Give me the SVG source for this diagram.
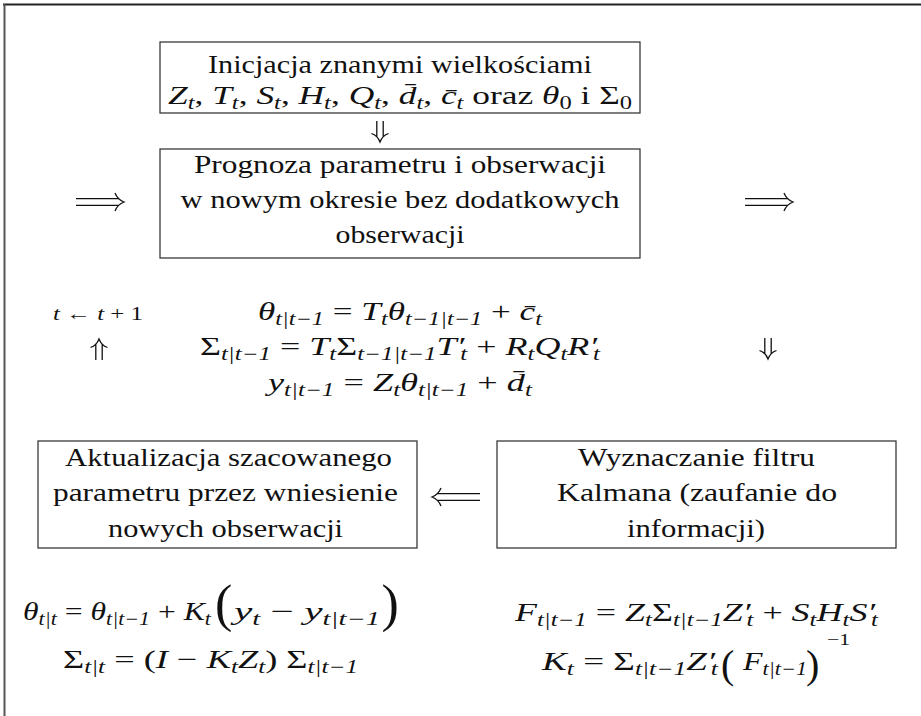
<svg xmlns="http://www.w3.org/2000/svg" xmlns:xlink="http://www.w3.org/1999/xlink" width="921" height="716" viewBox="0 0 921 716">
<style>
.b{font-family:"Liberation Serif",serif;font-size:26px;fill:#111}
.m{font-family:"Liberation Serif",serif;font-size:26px;font-style:italic;fill:#111}
.u{font-style:normal}
.sb{font-size:18px}
.p{font-family:"Liberation Serif",serif;fill:#111}
.box{fill:none;stroke:#3a3a3a;stroke-width:1.3}
.arr{fill:none;stroke:#111;stroke-width:1.3}
</style>
<defs>
<path id="dlong" class="arr" d="M0,-3.3H43M0,3.3H43M39,-9C41,-4 44,-1.5 48,0C44,1.5 41,4 39,9"/>
<path id="dshort" class="arr" d="M0,-3.2H16M0,3.2H16M12.5,-8.5C14,-4 17,-1.5 21,0C17,1.5 14,4 12.5,8.5"/>
</defs>
<g id="frame">
<line x1="3" y1="4.5" x2="921" y2="4.5" stroke="#222" stroke-width="2"/>
<line x1="4.5" y1="4" x2="4.5" y2="716" stroke="#555" stroke-width="2"/>
</g>
<g id="init">
<rect class="box" x="160" y="42" width="480" height="71"/>
<text class="b" x="208" y="73" textLength="384" lengthAdjust="spacingAndGlyphs">Inicjacja znanymi wielkościami</text>
<text class="m" x="168" y="104" textLength="464" lengthAdjust="spacingAndGlyphs">Z<tspan class="sb" dy="5">t</tspan><tspan class="u" dy="-5">, </tspan>T<tspan class="sb" dy="5">t</tspan><tspan class="u" dy="-5">, </tspan>S<tspan class="sb" dy="5">t</tspan><tspan class="u" dy="-5">, </tspan>H<tspan class="sb" dy="5">t</tspan><tspan class="u" dy="-5">, </tspan>Q<tspan class="sb" dy="5">t</tspan><tspan class="u" dy="-5">, </tspan>d̄<tspan class="sb" dy="5">t</tspan><tspan class="u" dy="-5">, </tspan>c̄<tspan class="sb" dy="5">t</tspan><tspan class="u" dy="-5"> oraz </tspan>θ<tspan class="sb u" dy="5">0</tspan><tspan class="u" dy="-5"> i Σ</tspan><tspan class="sb u" dy="5">0</tspan></text>
</g>
<g id="prognoza">
<rect class="box" x="160" y="149" width="480" height="109"/>
<text class="b" x="194" y="173" textLength="412" lengthAdjust="spacingAndGlyphs">Prognoza parametru i obserwacji</text>
<text class="b" x="180.5" y="208" textLength="439" lengthAdjust="spacingAndGlyphs">w nowym okresie bez dodatkowych</text>
<text class="b" x="335.5" y="243" textLength="129" lengthAdjust="spacingAndGlyphs">obserwacji</text>
</g>
<g id="step">
<text class="m" style="font-size:19px" x="53" y="320" textLength="90" lengthAdjust="spacingAndGlyphs">t<tspan class="u"> ← </tspan>t<tspan class="u"> + 1</tspan></text>
</g>
<g id="predict-eqs">
<text class="m" x="258" y="320" textLength="284" lengthAdjust="spacingAndGlyphs">θ<tspan class="sb" dy="5">t|t−1</tspan><tspan class="u" dy="-5"> = </tspan>T<tspan class="sb" dy="5">t</tspan><tspan dy="-5">θ</tspan><tspan class="sb" dy="5">t−1|t−1</tspan><tspan class="u" dy="-5"> + </tspan>c̄<tspan class="sb" dy="5">t</tspan></text>
<text class="m" x="200" y="355" textLength="400" lengthAdjust="spacingAndGlyphs"><tspan class="u">Σ</tspan><tspan class="sb" dy="5">t|t−1</tspan><tspan class="u" dy="-5"> = </tspan>T<tspan class="sb" dy="5">t</tspan><tspan class="u" dy="-5">Σ</tspan><tspan class="sb" dy="5">t−1|t−1</tspan><tspan dy="-5">T′</tspan><tspan class="sb" dy="5" dx="-3">t</tspan><tspan class="u" dy="-5"> + </tspan>R<tspan class="sb" dy="5">t</tspan><tspan dy="-5">Q</tspan><tspan class="sb" dy="5">t</tspan><tspan dy="-5">R′</tspan><tspan class="sb" dy="5" dx="-3">t</tspan></text>
<text class="m" x="268" y="391" textLength="264" lengthAdjust="spacingAndGlyphs">y<tspan class="sb" dy="5">t|t−1</tspan><tspan class="u" dy="-5"> = </tspan>Z<tspan class="sb" dy="5">t</tspan><tspan dy="-5">θ</tspan><tspan class="sb" dy="5">t|t−1</tspan><tspan class="u" dy="-5"> + </tspan>d̄<tspan class="sb" dy="5">t</tspan></text>
</g>
<g id="aktualizacja">
<rect class="box" x="38" y="441" width="379" height="107"/>
<text class="b" x="65" y="466" textLength="327" lengthAdjust="spacingAndGlyphs">Aktualizacja szacowanego</text>
<text class="b" x="53" y="501" textLength="345" lengthAdjust="spacingAndGlyphs">parametru przez wniesienie</text>
<text class="b" x="108" y="537" textLength="235" lengthAdjust="spacingAndGlyphs">nowych obserwacji</text>
</g>
<g id="kalman">
<rect class="box" x="497" y="441" width="399" height="107"/>
<text class="b" x="578" y="466" textLength="237" lengthAdjust="spacingAndGlyphs">Wyznaczanie filtru</text>
<text class="b" x="557" y="501" textLength="280" lengthAdjust="spacingAndGlyphs">Kalmana (zaufanie do</text>
<text class="b" x="627" y="537" textLength="138" lengthAdjust="spacingAndGlyphs">informacji)</text>
</g>
<g id="update-eqs">
<text class="m" x="23" y="620" textLength="188" lengthAdjust="spacingAndGlyphs">θ<tspan class="sb" dy="5">t|t</tspan><tspan class="u" dy="-5"> = </tspan>θ<tspan class="sb" dy="5">t|t−1</tspan><tspan class="u" dy="-5"> + </tspan>K<tspan class="sb" dy="5">t</tspan></text>
<text class="p" x="215" y="621" style="font-size:52px">(</text>
<text class="m" x="234" y="620" textLength="146" lengthAdjust="spacingAndGlyphs">y<tspan class="sb" dy="5">t</tspan><tspan class="u" dy="-5"> − </tspan>y<tspan class="sb" dy="5">t|t−1</tspan></text>
<text class="p" x="381.5" y="621" style="font-size:52px">)</text>
<text class="m" x="63" y="668" textLength="295" lengthAdjust="spacingAndGlyphs"><tspan class="u">Σ</tspan><tspan class="sb" dy="5">t|t</tspan><tspan class="u" dy="-5"> = (</tspan>I<tspan class="u"> − </tspan>K<tspan class="sb" dy="5">t</tspan><tspan dy="-5">Z</tspan><tspan class="sb" dy="5">t</tspan><tspan class="u" dy="-5">) Σ</tspan><tspan class="sb" dy="5">t|t−1</tspan></text>
</g>
<g id="gain-eqs">
<text class="m" x="515" y="621" textLength="363" lengthAdjust="spacingAndGlyphs">F<tspan class="sb" dy="5">t|t−1</tspan><tspan class="u" dy="-5"> = </tspan>Z<tspan class="sb" dy="5">t</tspan><tspan class="u" dy="-5">Σ</tspan><tspan class="sb" dy="5">t|t−1</tspan><tspan dy="-5">Z′</tspan><tspan class="sb" dy="5" dx="-3">t</tspan><tspan class="u" dy="-5"> + </tspan>S<tspan class="sb" dy="5">t</tspan><tspan dy="-5">H</tspan><tspan class="sb" dy="5">t</tspan><tspan dy="-5">S′</tspan><tspan class="sb" dy="5" dx="-3">t</tspan></text>
<text class="m" x="542" y="670" textLength="176" lengthAdjust="spacingAndGlyphs">K<tspan class="sb" dy="5">t</tspan><tspan class="u" dy="-5"> = Σ</tspan><tspan class="sb" dy="5">t|t−1</tspan><tspan dy="-5">Z′</tspan><tspan class="sb" dy="5" dx="-3">t</tspan></text>
<text class="p" x="721" y="678" style="font-size:40px">(</text>
<text class="m" x="743" y="670" textLength="64" lengthAdjust="spacingAndGlyphs">F<tspan class="sb" dy="5">t|t−1</tspan></text>
<text class="p" x="806" y="678" style="font-size:40px">)</text>
<text class="p" x="827" y="645" style="font-size:17px" textLength="23" lengthAdjust="spacingAndGlyphs">−1</text>
</g>
<g id="connectors">
<use xlink:href="#dshort" transform="translate(380,121) rotate(90)"/>
<use xlink:href="#dlong" transform="translate(76,202)"/>
<use xlink:href="#dlong" transform="translate(745,202)"/>
<use xlink:href="#dshort" transform="translate(99,360) rotate(-90)"/>
<use xlink:href="#dshort" transform="translate(768,338) rotate(90)"/>
<use xlink:href="#dlong" transform="translate(480,497) rotate(180)"/>
</g>
</svg>
